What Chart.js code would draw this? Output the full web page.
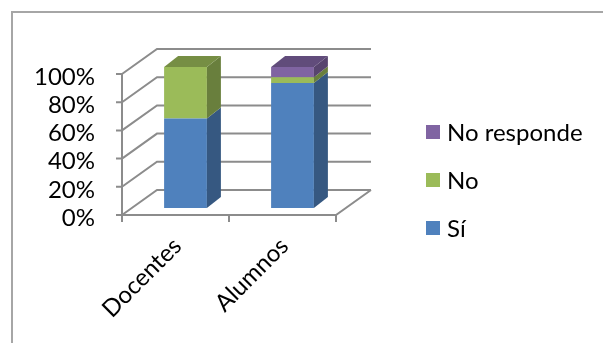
<!DOCTYPE html>
<html>
<head>
<meta charset="utf-8">
<script src="https://cdn.jsdelivr.net/npm/chart.js@4.4.1/dist/chart.umd.min.js"></script>
<style>
  html, body { margin: 0; padding: 0; background: #ffffff; }
  canvas { display: block; }
</style>
</head>
<body>
<canvas id="survey-chart" width="603" height="343"></canvas>
<script>
// Survey answers by group, in percent
const groups = ['Docentes', 'Alumnos'];
const siValues = [63.5, 88.6];
const noValues = [36.5, 4.1];
const noRespondeValues = [0, 7.3];
const yTickValues = [0, 20, 40, 60, 80, 100];

const FONT = 'Lato, "Open Sans", sans-serif';
const GRID_COLOR = '#8c8c8c';

// 3D offsets (pixels)
const floorDepth = { dx: 35, dy: -25 };   // front plane -> back wall
const frontShift = { dx: -10, dy: 7 };    // bar plane -> front plane
const barDepth = { dx: 14, dy: -11 };     // thickness of each column

function shade(hex, f) {
    const n = parseInt(hex.slice(1), 16);
    const r = Math.round(((n >> 16) & 255) * f);
    const g = Math.round(((n >> 8) & 255) * f);
    const b = Math.round((n & 255) * f);
    return `rgb(${r}, ${g}, ${b})`;
}

function poly(ctx, pts, fill) {
    ctx.beginPath();
    ctx.moveTo(pts[0][0], pts[0][1]);
    for (let i = 1; i < pts.length; i++) ctx.lineTo(pts[i][0], pts[i][1]);
    ctx.closePath();
    ctx.fillStyle = fill;
    ctx.fill();
}

/**
 * Walls, floor and axis lines of the 3D box, drawn behind the columns
 */
const frame3d = {
    id: 'frame3d',
    beforeDatasetsDraw(chart) {
        const ctx = chart.ctx;
        const ys = chart.scales.y;
        const area = chart.chartArea;
        const x0 = area.left + frontShift.dx;
        const x1 = area.right + frontShift.dx;
        const bottom = ys.getPixelForValue(0) + frontShift.dy;
        const top = ys.getPixelForValue(100) + frontShift.dy;

        ctx.save();
        ctx.strokeStyle = GRID_COLOR;
        ctx.lineWidth = 2;
        ctx.lineCap = 'butt';
        ctx.beginPath();
        yTickValues.forEach(v => {
            const py = ys.getPixelForValue(v) + frontShift.dy;
            // side wall diagonal + back wall gridline
            ctx.moveTo(x0, py);
            ctx.lineTo(x0 + floorDepth.dx, py + floorDepth.dy);
            ctx.lineTo(x1 + floorDepth.dx, py + floorDepth.dy);
            // tick mark
            ctx.moveTo(x0 - 6, py);
            ctx.lineTo(x0, py);
        });
        // value axis
        ctx.moveTo(x0, top);
        ctx.lineTo(x0, bottom);
        // front and right edges of the floor
        ctx.moveTo(x0, bottom);
        ctx.lineTo(x1, bottom);
        ctx.lineTo(x1 + floorDepth.dx, bottom + floorDepth.dy);
        // category ticks
        const step = (x1 - x0) / groups.length;
        for (let i = 0; i <= groups.length; i++) {
            const px = x0 + i * step;
            ctx.moveTo(px, bottom);
            ctx.lineTo(px, bottom + 7);
        }
        ctx.stroke();
        ctx.restore();
    },

    // sides and tops of the columns
    afterDatasetsDraw(chart) {
        const ctx = chart.ctx;
        const datasets = chart.data.datasets;
        ctx.save();
        for (let j = 0; j < groups.length; j++) {
            let topSeg = null;
            datasets.forEach((ds, i) => {
                const bar = chart.getDatasetMeta(i).data[j];
                if (!ds.data[j]) return;
                const right = bar.x + bar.width / 2;
                const yTop = bar.y;
                const yBase = bar.base;
                poly(ctx, [
                    [right, yBase],
                    [right + barDepth.dx, yBase + barDepth.dy],
                    [right + barDepth.dx, yTop + barDepth.dy],
                    [right, yTop]
                ], shade(ds.backgroundColor, 0.68));
                topSeg = { bar, color: ds.backgroundColor };
            });
            if (topSeg) {
                const b = topSeg.bar;
                const left = b.x - b.width / 2;
                const right = b.x + b.width / 2;
                poly(ctx, [
                    [left, b.y],
                    [right, b.y],
                    [right + barDepth.dx, b.y + barDepth.dy],
                    [left + barDepth.dx, b.y + barDepth.dy]
                ], shade(topSeg.color, 0.76));
            }
        }
        ctx.restore();
    },

    // legend on the right and the outer frame
    afterDraw(chart) {
        const ctx = chart.ctx;
        ctx.save();
        const items = chart.data.datasets.slice().reverse();
        ctx.font = '24px ' + FONT;
        ctx.textBaseline = 'middle';
        ctx.textAlign = 'left';
        items.forEach((ds, k) => {
            const cy = 132 + k * 48;
            ctx.fillStyle = ds.backgroundColor;
            ctx.fillRect(426, cy - 7, 14, 14);
            ctx.fillStyle = '#000000';
            ctx.fillText(ds.label, 447, cy + 1);
        });
        ctx.strokeStyle = '#a6a6a6';
        ctx.lineWidth = 2;
        ctx.beginPath();
        ctx.moveTo(12, 343);
        ctx.lineTo(12, 12);
        ctx.lineTo(603, 12);
        ctx.stroke();
        ctx.restore();
    }
};

const ctx = document.getElementById('survey-chart').getContext('2d');

const surveyChart = new Chart(ctx, {
    type: 'bar',
    data: {
        labels: groups,
        datasets: [
            { label: 'Sí', data: siValues, backgroundColor: '#4f81bd' },
            { label: 'No', data: noValues, backgroundColor: '#9bbb59' },
            { label: 'No responde', data: noRespondeValues, backgroundColor: '#8064a2' }
        ]
    },
    options: {
        responsive: false,
        devicePixelRatio: 1,
        animation: false,
        layout: {
            autoPadding: false,
            padding: { left: 0, top: 67, right: 257, bottom: 15 }
        },
        datasets: {
            bar: {
                categoryPercentage: 0.8,
                barPercentage: 0.5,
                borderWidth: 0
            }
        },
        scales: {
            x: {
                stacked: true,
                grid: { display: false, drawTicks: false },
                border: { display: false },
                ticks: {
                    autoSkip: false,
                    minRotation: 45,
                    maxRotation: 45,
                    padding: 24,
                    labelOffset: -8,
                    color: '#000000',
                    font: { family: FONT, size: 24 }
                },
                afterFit(scale) { scale.height = 120; }
            },
            y: {
                stacked: true,
                min: 0,
                max: 100,
                grid: { display: false, drawTicks: false },
                border: { display: false },
                ticks: {
                    autoSkip: false,
                    stepSize: 20,
                    padding: 37,
                    labelOffset: 10,
                    color: '#000000',
                    font: { family: FONT, size: 24 },
                    callback: value => value + '%'
                },
                afterFit(scale) { scale.width = 132; }
            }
        },
        plugins: {
            legend: { display: false },
            tooltip: { enabled: false }
        }
    },
    plugins: [frame3d]
});
</script>
</body>
</html>
